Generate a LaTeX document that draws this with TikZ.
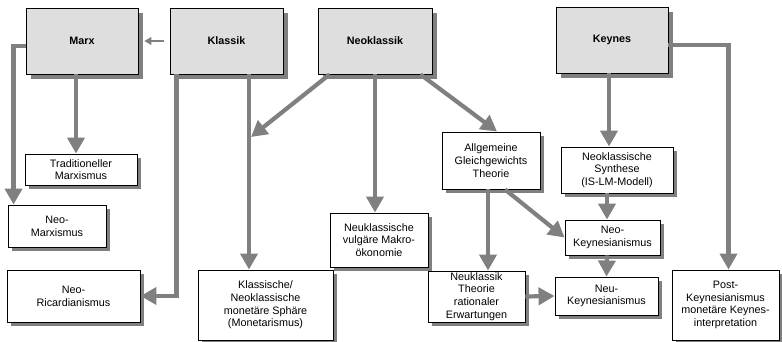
\documentclass[tikz,border=0pt]{standalone}
\usepackage{fontspec}
\setmainfont{Liberation Sans}
\usepackage{tikz}
\usetikzlibrary{arrows.meta,positioning,shadows}

\begin{document}
\begin{tikzpicture}[
  x=1pt, y=-1pt,
  topbox/.style={draw, fill=black!13, line width=0.9pt,
                 font=\fontsize{10.8}{12.7}\selectfont\bfseries,
                 align=center, inner sep=1pt,
                 drop shadow={shadow xshift=5pt, shadow yshift=-5pt,
                              fill=black!50, opacity=1}},
  box/.style={draw, fill=white, line width=0.9pt,
              font=\fontsize{10.8}{12.7}\selectfont,
              align=center, inner sep=1pt,
              drop shadow={shadow xshift=4pt, shadow yshift=-4pt,
                           fill=black!50, opacity=1}},
  arr/.style={-{Triangle[length=16pt, width=17pt]}, line width=4.2pt,
              draw=black!50}
]
\useasboundingbox (0,0) rectangle (782,342);

% top row
\node[topbox, minimum width=112pt, minimum height=66pt] (marx) at (82,41) {Marx};
\node[topbox, minimum width=113pt, minimum height=66pt] (klassik) at (226.5,41) {Klassik};
\node[topbox, minimum width=114pt, minimum height=66pt] (neokl) at (375,41) {Neoklassik};
\node[topbox, minimum width=112pt, minimum height=66pt] (keynes) at (612,40) {Keynes};

% schools
\node[box, minimum width=112pt, minimum height=31pt] (tradmarx) at (81,169.5)
  {Traditioneller\\Marxismus};
\node[box, minimum width=98pt, minimum height=42pt] (neomarx) at (57,226)
  {Neo-\\Marxismus};
\node[box, minimum width=133pt, minimum height=52pt] (neoric) at (73.5,296)
  {Neo-\\Ricardianismus};
\node[box, minimum width=135pt, minimum height=70pt] (monet) at (265.5,305)
  {Klassische/\\Neoklassische\\monetäre Sphäre\\(Monetarismus)};
\node[box, minimum width=98pt, minimum height=54pt] (vulg) at (379,240)
  {Neuklassische\\vulgäre Makro-\\ökonomie};
\node[box, minimum width=98pt, minimum height=57pt] (agt) at (491,160.5)
  {Allgemeine\\Gleichgewichts\\Theorie};
\node[box, minimum width=112pt, minimum height=46pt] (synth) at (617,170)
  {Neoklassische\\Synthese\\(IS-LM-Modell)};
\node[box, minimum width=95pt, minimum height=35pt] (neokey) at (612.5,237.5)
  {Neo-\\Keynesianismus};
\node[box, minimum width=97pt, minimum height=51pt] (ratex) at (476.5,296.5)
  {Neuklassik\\Theorie\\rationaler\\Erwartungen};
\node[box, minimum width=103pt, minimum height=38pt] (neukey) at (606.5,296)
  {Neu-\\Keynesianismus};
\node[box, minimum width=107pt, minimum height=70pt] (post) at (725.5,305)
  {Post-\\Keynesianismus\\monetäre Keynes-\\interpretation};

\coordinate (hit) at (251,137);

% connectors
\draw[-{Triangle[length=7pt, width=8pt]}, line width=1.2pt, draw=black!50,
      shorten <=6pt, shorten >=6pt] (klassik.west) -- (marx.east);
\draw[arr] ([yshift=-5]marx.west) -| ([xshift=6]neomarx.north west);
\draw[arr] ([xshift=-6]marx.south) -- ([xshift=-5]tradmarx.north);
\draw[arr] ([xshift=7]klassik.south west) |- (neoric.east);
\draw[arr] ([xshift=22.5]klassik.south) -- ([xshift=-16.5]monet.north);
\draw[arr] ([xshift=12]neokl.south west) -- (hit);
\draw[arr] (neokl.south) -- (neokl.south |- vulg.north);
\draw[arr] ([xshift=-12]neokl.south east) -- ([xshift=6]agt.north);
\draw[arr] ([xshift=-3]keynes.south) -- ([xshift=-8]synth.north);
\draw[arr] ([yshift=-5]keynes.east) -| ([xshift=3]post.north);
\draw[arr] ([xshift=-10]synth.south) -- ([xshift=-5.5]neokey.north);
\draw[arr] ([xshift=14]agt.south) -- (neokey.west);
\draw[arr] ([xshift=-3]agt.south) -- ([xshift=11.5]ratex.north);
\draw[arr] (ratex.east) -- (neukey.west);
\draw[arr] ([xshift=-5.5]neokey.south) -- (neukey.north);
\end{tikzpicture}
\end{document}
